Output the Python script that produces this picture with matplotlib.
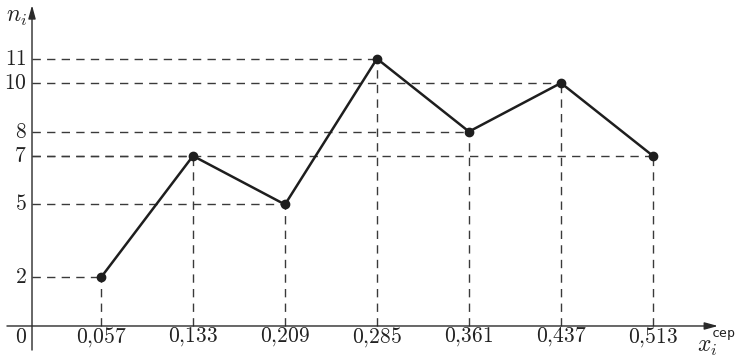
import matplotlib.pyplot as plt

plt.rcParams['mathtext.fontset'] = 'cm'
plt.rcParams['font.family'] = ['DejaVu Serif']

# interval midpoints and frequencies
x_mid = [0.057, 0.133, 0.209, 0.285, 0.361, 0.437, 0.513]
x_labels = ['0,057', '0,133', '0,209', '0,285', '0,361', '0,437', '0,513']
n_freq = [2, 7, 5, 11, 8, 10, 7]
y_ticks = [2, 5, 7, 8, 10, 11]

fig = plt.figure(figsize=(7.44, 3.57), dpi=100)
ax = fig.add_axes([0, 0, 1, 1])
ax.set_xlim(-0.02644, 0.5882)
ax.set_ylim(-1.276, 13.416)
ax.axis('off')

dash_kw = dict(color='#3a3a3a', lw=1.0, dashes=(6, 4.5))

# dashed guide lines
for xv, yv in zip(x_mid, n_freq):
    ax.plot([0, xv], [yv, yv], **dash_kw)
    ax.plot([xv, xv], [0, yv], **dash_kw)

# axes with arrows
ax.annotate('', xy=(0.5667, 0), xytext=(-0.0207, 0),
            arrowprops=dict(arrowstyle='-|>,head_length=0.8,head_width=0.22',
                            color='#2a2a2a', lw=1.0, shrinkA=0, shrinkB=0))
ax.annotate('', xy=(0, 13.2), xytext=(0, -0.99),
            arrowprops=dict(arrowstyle='-|>,head_length=0.8,head_width=0.22',
                            color='#2a2a2a', lw=1.0, shrinkA=0, shrinkB=0))

# polygon
ax.plot(x_mid, n_freq, color='#1e1e1e', lw=1.8, marker='o', markersize=6,
        markerfacecolor='#1e1e1e', zorder=5)

fs = 15.5
for xv, lab in zip(x_mid, x_labels):
    ax.text(xv, -0.45, '$' + lab.replace(',', '{,}') + '$', ha='center', va='center',
            fontsize=fs, color='#222222')
for yv in y_ticks:
    ax.text(-0.0045, yv, f'${yv}$', ha='right', va='center', fontsize=fs, color='#222222')
ax.text(-0.0045, -0.45, '$0$', ha='right', va='center', fontsize=fs, color='#222222')

ax.text(-0.0040, 12.75, '$n_i$', ha='right', va='center', fontsize=17, color='#222222')
ax.text(0.5490, -0.85, '$x_i$', ha='left', va='center', fontsize=17, color='#222222')
ax.text(0.5618, -0.32, 'сер', ha='left', va='center', fontsize=9.5,
        family=['DejaVu Sans Mono'], color='#222222')

fig.savefig('out.png', dpi=100, facecolor='white')
